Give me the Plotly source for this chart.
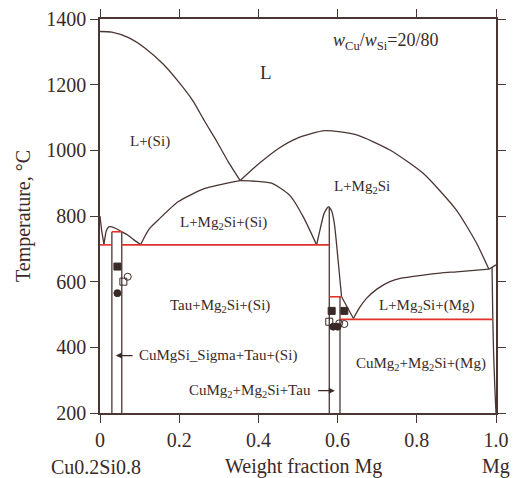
import plotly.graph_objects as go

# ---- phase boundary curves (weight fraction Mg, temperature in °C) ----
si_liq_w = [0.0, 0.03, 0.072, 0.114, 0.16, 0.198, 0.235, 0.265, 0.295, 0.324, 0.354]
si_liq_t = [1362, 1360, 1343, 1311, 1262, 1209, 1150, 1087, 1027, 965, 908]

mg2si_liq_w = [0.354, 0.40, 0.45, 0.50, 0.568, 0.648, 0.732, 0.816, 0.90, 0.951, 0.982]
mg2si_liq_t = [908, 958, 1005, 1038, 1060, 1047, 1001, 930, 818, 717, 638]

edge_w = [0.0, 0.004, 0.010]
edge_t = [800, 758, 714]

hump_w = [0.010, 0.016, 0.022, 0.030, 0.040, 0.055, 0.070, 0.085, 0.103]
hump_t = [714, 755, 767, 767, 762, 752, 742, 728, 713]

dome_l_w = [0.103, 0.115, 0.126, 0.147, 0.198, 0.265, 0.354]
dome_l_t = [713, 742, 763, 788, 844, 884, 908]

dome_r_w = [0.354, 0.433, 0.48, 0.513, 0.547]
dome_r_t = [908, 900, 862, 798, 712]

peak_w = [0.547, 0.556, 0.566, 0.577, 0.585, 0.592, 0.602, 0.610]
peak_t = [712, 760, 808, 828, 815, 775, 656, 554]

peak_tail_w = [0.610, 0.625, 0.640]
peak_tail_t = [554, 522, 488]

mg_liq_w = [0.640, 0.655, 0.673, 0.70, 0.732, 0.758, 0.816, 0.859, 0.90, 0.982]
mg_liq_t = [488, 520, 549, 578, 600, 610, 620, 626, 630, 638]

mg_melt_w = [0.982, 1.0]
mg_melt_t = [638, 651]

solvus_w = [0.990, 0.991, 0.992, 0.994, 0.997, 1.0]
solvus_t = [645, 560, 485, 380, 280, 200]

# vertical single/two-phase boundaries: (w, top T, bottom T)
vert_w = [0.030, 0.055, 0.579, 0.606]
vert_top = [752, 752, 828, 554]
vert_bot = [200, 200, 200, 200]

# invariant (isothermal) reactions: (w start, w end, T)
iso_w0 = [0.0, 0.030, 0.055, 0.579, 0.606]
iso_w1 = [0.030, 0.055, 0.579, 0.610, 0.992]
iso_t = [712, 752, 712, 554, 485]

# experimental points
fsq_w = [0.044, 0.585, 0.617]
fsq_t = [646, 511, 511]
osq_w = [0.059, 0.579]
osq_t = [600, 478]
fci_w = [0.044, 0.589, 0.600]
fci_t = [565, 463, 463]
oci_w = [0.070, 0.604, 0.617]
oci_t = [615, 473, 471]

# region labels
region_text = ["L+(Si)", "L+Mg<sub>2</sub>Si+(Si)", "L+Mg<sub>2</sub>Si",
               "Tau+Mg<sub>2</sub>Si+(Si)", "L+Mg<sub>2</sub>Si+(Mg)",
               "CuMg<sub>2</sub>+Mg<sub>2</sub>Si+(Mg)"]
region_w = [0.126, 0.311, 0.661, 0.303, 0.825, 0.81]
region_t = [1026, 778, 887, 526, 526, 349]

x_ticks = [0, 0.2, 0.4, 0.6, 0.8, 1.0]
x_tick_text = ["0", "0.2", "0.4", "0.6", "0.8", "1.0"]
y_ticks = [200, 400, 600, 800, 1000, 1200, 1400]

LINE = "#4a3632"
RED = "#e2312b"
TEXT = "#3a2a27"
FONT = "Liberation Serif, Times New Roman, serif"

fig = go.Figure()


def curve(w, t, color=LINE, width=1.3, shape="spline"):
    fig.add_trace(go.Scatter(x=w, y=t, mode="lines",
                             line=dict(color=color, width=width, shape=shape,
                                       smoothing=0.6),
                             showlegend=False, hoverinfo="skip"))


for w, t in [(si_liq_w, si_liq_t), (mg2si_liq_w, mg2si_liq_t), (edge_w, edge_t),
             (hump_w, hump_t), (dome_l_w, dome_l_t), (dome_r_w, dome_r_t),
             (peak_w, peak_t), (mg_liq_w, mg_liq_t), (solvus_w, solvus_t)]:
    curve(w, t)
curve(peak_tail_w, peak_tail_t, shape="linear")
curve(mg_melt_w, mg_melt_t, shape="linear")

for w, t0, t1 in zip(vert_w, vert_top, vert_bot):
    curve([w, w], [t0, t1], shape="linear")

for w0, w1, t in zip(iso_w0, iso_w1, iso_t):
    curve([w0, w1], [t, t], color=RED, width=1.6, shape="linear")

marker_sets = [
    (fsq_w, fsq_t, "square", TEXT),
    (osq_w, osq_t, "square-open", TEXT),
    (fci_w, fci_t, "circle", TEXT),
    (oci_w, oci_t, "circle-open", TEXT),
]
for w, t, sym, col in marker_sets:
    fig.add_trace(go.Scatter(x=w, y=t, mode="markers",
                             marker=dict(symbol=sym, size=7, color=col,
                                         line=dict(color=col, width=1)),
                             showlegend=False, hoverinfo="skip"))

annotations = []
for txt, w, t in zip(region_text, region_w, region_t):
    annotations.append(dict(x=w, y=t, text=txt, showarrow=False,
                            font=dict(size=15, color=TEXT, family=FONT)))
annotations.append(dict(x=0.42, y=1236, text="L", showarrow=False,
                        font=dict(size=19, color=TEXT, family=FONT)))
annotations.append(dict(x=0.72, y=1332,
                        text="<i>w</i><sub>Cu</sub>/<i>w</i><sub>Si</sub>=20/80",
                        showarrow=False, font=dict(size=18, color=TEXT, family=FONT)))

# arrowed labels for the narrow three-phase fields
annotations.append(dict(x=0.040, y=375, ax=0.086, ay=375, axref="x", ayref="y",
                        text="", showarrow=True, arrowhead=2, arrowsize=1,
                        arrowwidth=1.2, arrowcolor=TEXT))
annotations.append(dict(x=0.093, y=375, text="CuMgSi_Sigma+Tau+(Si)",
                        xanchor="left", showarrow=False,
                        font=dict(size=15, color=TEXT, family=FONT)))
annotations.append(dict(x=0.593, y=268, ax=0.547, ay=268, axref="x", ayref="y",
                        text="", showarrow=True, arrowhead=2, arrowsize=1,
                        arrowwidth=1.2, arrowcolor=TEXT))
annotations.append(dict(x=0.538, y=268, text="CuMg<sub>2</sub>+Mg<sub>2</sub>Si+Tau",
                        xanchor="right", showarrow=False,
                        font=dict(size=15, color=TEXT, family=FONT)))

# end-member compositions and axis title under the axis
below_y = -0.137
annotations.append(dict(x=-0.01, y=below_y, xref="paper", yref="paper",
                        text="Cu0.2Si0.8", showarrow=False, xanchor="center",
                        yanchor="middle", font=dict(size=20, color=TEXT, family=FONT)))
annotations.append(dict(x=0.513, y=below_y, xref="paper", yref="paper",
                        text="Weight fraction Mg", showarrow=False, xanchor="center",
                        yanchor="middle", font=dict(size=20, color=TEXT, family=FONT)))
annotations.append(dict(x=1.0, y=below_y, xref="paper", yref="paper",
                        text="Mg", showarrow=False, xanchor="center",
                        yanchor="middle", font=dict(size=20, color=TEXT, family=FONT)))

axis_common = dict(showline=True, linecolor=LINE, linewidth=1.5, mirror="ticks",
                   ticks="outside", ticklen=8, tickwidth=1.3, tickcolor=LINE,
                   showgrid=False, zeroline=False, automargin=False,
                   tickfont=dict(size=20, color=TEXT, family=FONT))

fig.update_layout(
    width=513, height=478,
    margin=dict(l=100, r=17, t=19, b=65),
    paper_bgcolor="white", plot_bgcolor="white",
    xaxis=dict(range=[0, 1], tickvals=x_ticks, ticktext=x_tick_text,
               **axis_common),
    yaxis=dict(range=[200, 1400], tickvals=y_ticks,
               title=dict(text="Temperature, °C", standoff=10,
                          font=dict(size=20, color=TEXT, family=FONT)),
               **axis_common),
    annotations=annotations,
)

fig.write_html("out.html")
